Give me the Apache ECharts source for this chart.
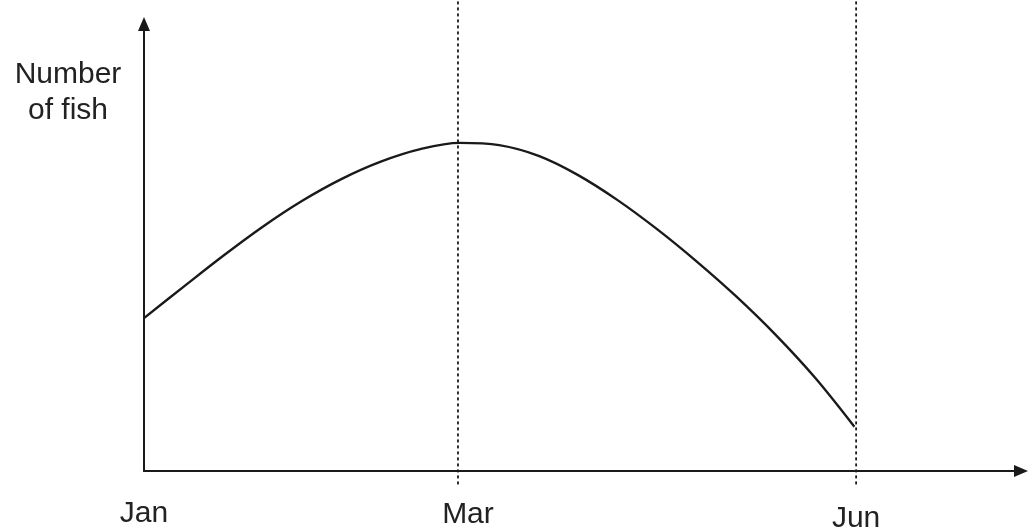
<!DOCTYPE html>
<html>
<head>
<meta charset="utf-8">
<script src="https://cdn.jsdelivr.net/npm/echarts@6/dist/echarts.min.js"></script>
<style>html,body{margin:0;padding:0;background:#fff;}#c{width:1029px;height:531px;}</style>
</head>
<body>
<div id="c"></div>
<script>
// x in arbitrary time units (Jan = 0), y in arbitrary "number of fish" units
const curveX = [0, 4.5, 9, 13.5, 18, 22.5, 27, 31.5, 36, 40.5, 45, 49.5, 54, 58.5, 63, 67.5, 72, 76.5, 81];
const curveY = [34.2, 41.2, 48.1, 54.6, 60.4, 65.3, 69.2, 72.0, 73.4, 72.9, 70.5, 66.2, 60.6, 54.1, 46.9, 39.1, 30.5, 20.9, 9.9];
const tickLabels = ['Jan', 'Mar', 'Jun'];
const tickPos = [0, 35.8, 81.2];
const guidePos = [35.8, 81.2];   // dashed verticals at Mar and Jun
const guideSpan = [-3, 105.3];
const yTitle = 'Number\nof fish';

const chart = echarts.init(document.getElementById('c'), null, {renderer: 'canvas'});
const ink = '#1a1a1a';
const txt = '#222222';
const font = '"Liberation Sans", Arial, sans-serif';

const series = [{
  type: 'line',
  data: curveX.map((x, i) => [x, curveY[i]]),
  smooth: 0.35,
  symbol: 'none',
  lineStyle: {color: ink, width: 2.4},
  z: 3
}];
guidePos.forEach(p => {
  series.push({
    type: 'line',
    data: [[p, guideSpan[0]], [p, guideSpan[1]]],
    symbol: 'none',
    clip: false,
    lineStyle: {color: ink, width: 1.8, type: [3, 3]},
    z: 2
  });
});

chart.setOption({
  animation: false,
  backgroundColor: '#fff',
  graphic: [{
    type: 'text',
    x: 68,
    y: 57,
    style: {text: yTitle, textAlign: 'center', fontFamily: font, fontSize: 30, lineHeight: 36, fill: txt}
  }],
  grid: {left: 144, right: 8, top: 24, bottom: 60, outerBoundsMode: 'none', containLabel: false},
  xAxis: {
    type: 'value', min: 0, max: 100,
    axisLine: {show: true, symbol: ['none', 'triangle'], symbolSize: [12, 14], lineStyle: {color: ink, width: 2}},
    axisTick: {show: false},
    splitLine: {show: false},
    axisLabel: {
      customValues: tickPos,
      margin: 28,
      fontFamily: font, fontSize: 30, color: txt,
      formatter: v => {
        const i = tickPos.indexOf(v);
        if (i < 0) return '';
        return '{s' + i + '|' + tickLabels[i] + '}';
      },
      rich: {
        s0: {fontFamily: font, fontSize: 30, color: txt},
        s1: {fontFamily: font, fontSize: 30, color: txt, padding: [1, 0, 0, 20]},
        s2: {fontFamily: font, fontSize: 30, color: txt, padding: [5, 0, 0, 0]}
      }
    }
  },
  yAxis: {
    type: 'value', min: 0, max: 100,
    axisLine: {show: true, symbol: ['none', 'triangle'], symbolSize: [12, 14], lineStyle: {color: ink, width: 2}},
    axisTick: {show: false},
    axisLabel: {show: false},
    splitLine: {show: false}
  },
  series: series
});
</script>
</body>
</html>
